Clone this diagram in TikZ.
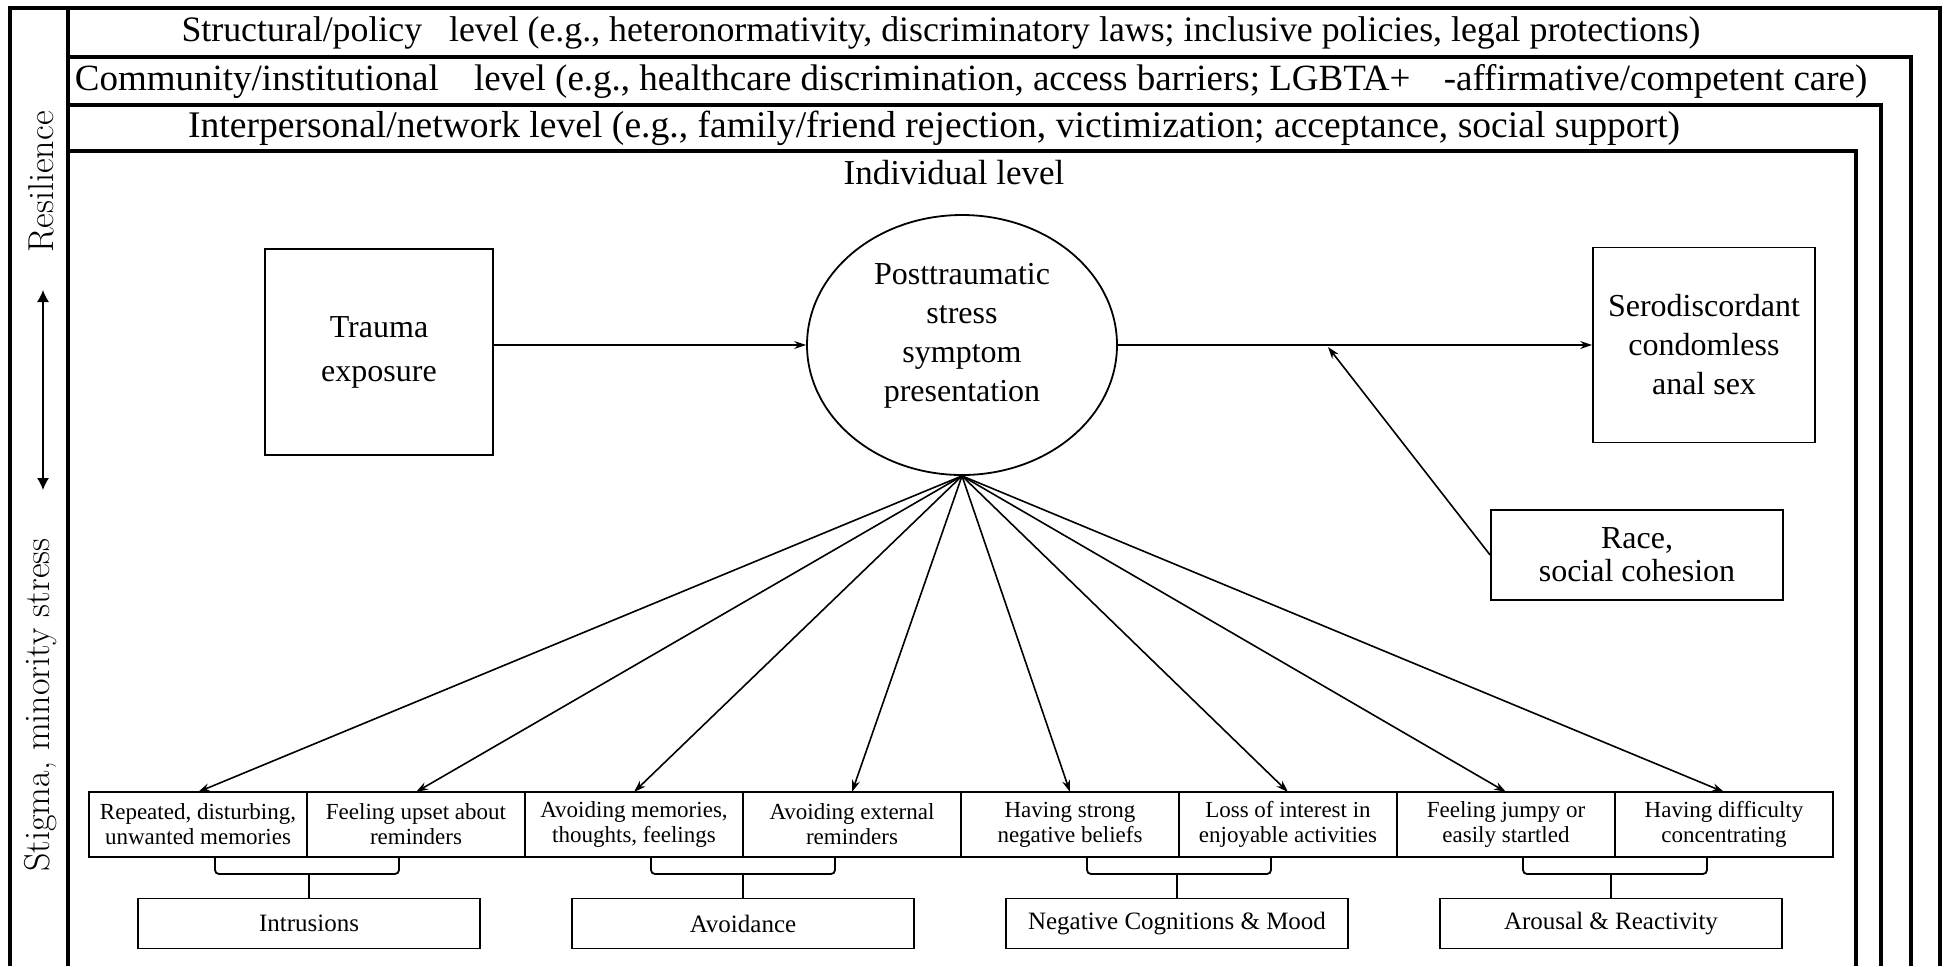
\documentclass[tikz,border=0pt]{standalone}
\usepackage{fontspec}
\newfontfamily\tnr{Liberation Serif}
\usetikzlibrary{arrows.meta,shapes.geometric,positioning,calc}

\begin{document}
\begin{tikzpicture}[
    x=0.5pt, y=-0.5pt,
    font=\tnr,
    >={Stealth[length=6pt,width=4pt]},
    frame/.style={line width=1.6pt},
    level/.style={font=\tnr\fontsize{18.5}{22}\selectfont, inner sep=0pt},
    box/.style={rectangle, draw, line width=0.9pt, align=center, inner sep=0pt},
    ptss/.style={ellipse, draw, line width=0.9pt, align=center, minimum width=155pt, minimum height=130pt, inner sep=0pt, text depth=13pt, font=\tnr\fontsize{16}{19.5}\selectfont},
    symptom/.style={rectangle, draw, line width=0.8pt, align=center, minimum width=109pt, minimum height=32.5pt, inner sep=0pt, outer sep=0pt, font=\tnr\fontsize{11.5}{12.5}\selectfont},
    cluster/.style={rectangle, draw, line width=0.9pt, minimum width=171pt, minimum height=25pt, inner sep=0pt, font=\tnr\fontsize{12.5}{14}\selectfont},
    arrow/.style={->, line width=0.8pt},
    brace/.style={line width=0.9pt, rounded corners=2pt},
    side/.style={rotate=90, font=\normalfont\fontsize{18}{21}\selectfont, inner sep=0pt}
]

    \useasboundingbox (0,0) rectangle (1948,966);

    % Nested level frames
    \draw[frame] (10,966) -- (10,8) -- (1940,8) -- (1940,966);
    \draw[frame] (68,8) -- (68,966);
    \draw[frame] (68,57) -- (1911,57) -- (1911,966);
    \draw[frame] (68,105) -- (1881,105) -- (1881,966);
    \draw[frame] (68,151) -- (1856,151) -- (1856,966);

    % Level labels
    \node (structural) [level, font=\tnr\fontsize{17.9}{22}\selectfont] at (941,33) {Structural/policy\hspace{9pt} level (e.g., heteronormativity, discriminatory laws; inclusive policies, legal protections)};
    \node (community) [level] at (971,81) {Community/institutional\hspace{13pt} level (e.g., healthcare discrimination, access barriers; LGBTA+\hspace{12pt} -affirmative/competent care)};
    \node (interpersonal) [level, font=\tnr\fontsize{18.8}{22}\selectfont] at (934,128) {Interpersonal/network level (e.g., family/friend rejection, victimization; acceptance, social support)};
    \node (individual) [level, font=\tnr\fontsize{17.5}{21}\selectfont] at (954,173) {Individual level};

    % Side axis
    \node (resilience) [side] at (41,182) {Resilience};
    \node (stigma) [side] at (41,705) {Stigma, minority stress};
    \coordinate (axistop) at (43,290);
    \coordinate (axisbottom) at (43,490);
    \draw[{Latex[length=6pt,width=6pt]}-{Latex[length=6pt,width=6pt]}, line width=0.6pt] (axistop) -- (axisbottom);

    % Main path
    \node (trauma) [box, minimum width=114pt, minimum height=103pt, font=\tnr\fontsize{16}{22}\selectfont] at (379,352) {Trauma\\exposure};
    \node (ptss) [ptss] at (962,345) {Posttraumatic\\stress\\symptom\\presentation};
    \node (casex) [box, minimum width=111pt, minimum height=97.5pt, font=\tnr\fontsize{16}{19.5}\selectfont] at (1704,345) {Serodiscordant\\condomless\\anal sex};
    \node (race) [box, minimum width=146pt, minimum height=45pt, font=\tnr\fontsize{16}{16.5}\selectfont] at (1637,555) {Race,\\social cohesion};
    \coordinate (modpoint) at (1328,347);

    \draw[arrow] (trauma.east |- ptss.west) -- (ptss.west);
    \draw[arrow] (ptss) -- (casex);
    \draw[arrow] (race.west) -- (modpoint);

    % Symptoms
    \foreach \txt [count=\i] in {{Repeated, disturbing,\\unwanted memories}, {Feeling upset about\\reminders}, {Avoiding memories,\\thoughts,\ feelings}, {Avoiding external\\reminders}, {Having strong\\negative beliefs}, {Loss of interest in\\enjoyable activities}, {Feeling jumpy or\\easily startled}, {Having difficulty\\concentrating}}
        \node (s\i) [symptom] at ({-20+218*\i},824.5) {\txt};

    \foreach \i in {1,...,8}
        \draw[arrow] (ptss.south) -- (s\i.north);

    % Symptom clusters
    \foreach \name [count=\k] in {Intrusions, Avoidance, Negative Cognitions \& Mood, Arousal \& Reactivity}
        \node (g\k) [cluster] at ({-125+434*\k},923.5) {\name};

    \foreach \k [evaluate=\k as \a using int(2*\k-1), evaluate=\k as \b using int(2*\k)] in {1,...,4} {
        \draw[brace] ($(s\a.south)+(17,0)$) -- ++(0,17) -| ($(s\b.south)+(-17,0)$);
        \draw[brace] (g\k.north) -- ++(0,-25);
    }

\end{tikzpicture}
\end{document}
